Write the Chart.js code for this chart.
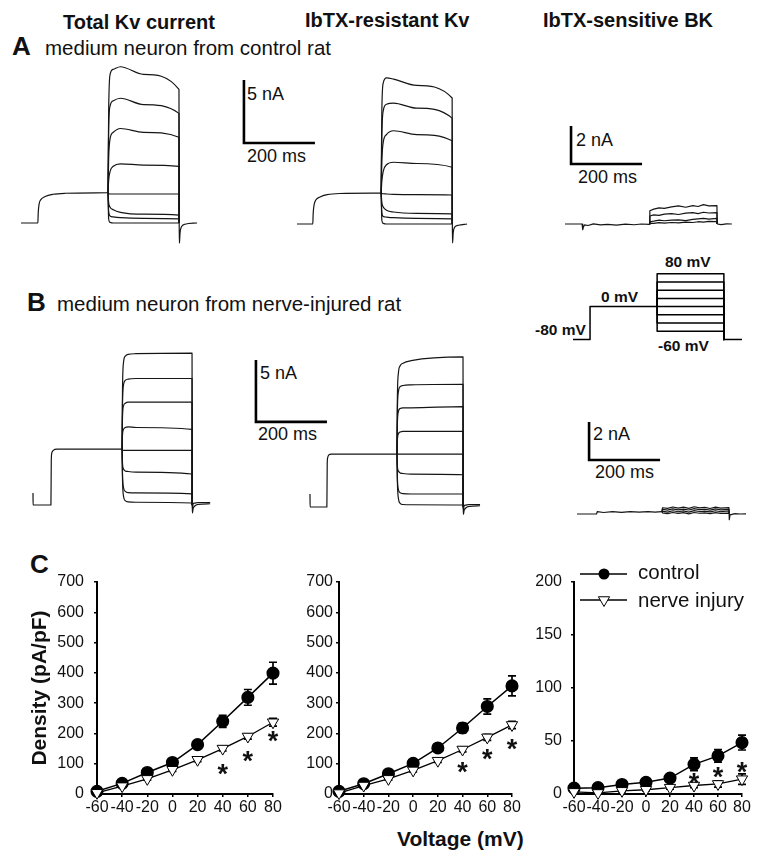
<!DOCTYPE html>
<html>
<head>
<meta charset="utf-8">
<script src="https://cdn.jsdelivr.net/npm/chart.js@4.4.1/dist/chart.umd.min.js"></script>
<style>
html, body { margin: 0; padding: 0; background: #fff; }
body { width: 762px; height: 863px; position: relative; overflow: hidden; font-family: "Liberation Sans", Arial, Helvetica, sans-serif; color: #111; }
canvas { position: absolute; }
.t { position: absolute; white-space: nowrap; line-height: 1; }
.b { font-weight: bold; }
</style>
</head>
<body>
<div class="t b" style="left:63px;top:12px;font-size:20px">Total Kv current</div>
<div class="t b" style="left:305px;top:9.5px;font-size:20px">IbTX-resistant Kv</div>
<div class="t b" style="left:543px;top:9.8px;font-size:20px">IbTX-sensitive BK</div>

<div class="t b" style="left:12px;top:33px;font-size:26px">A</div>
<div class="t" style="left:45px;top:37.5px;font-size:20.5px">medium neuron from control rat</div>
<div class="t b" style="left:27px;top:289px;font-size:26px">B</div>
<div class="t" style="left:57px;top:293.5px;font-size:20.5px">medium neuron from nerve-injured rat</div>
<div class="t b" style="left:30px;top:551px;font-size:26px">C</div>

<div class="t" style="left:247px;top:85px;font-size:18px">5 nA</div>
<div class="t" style="left:247px;top:147px;font-size:18px">200 ms</div>
<div class="t" style="left:576px;top:131px;font-size:18px">2 nA</div>
<div class="t" style="left:578px;top:168px;font-size:18px">200 ms</div>
<div class="t" style="left:260px;top:364px;font-size:18px">5 nA</div>
<div class="t" style="left:258px;top:425px;font-size:18px">200 ms</div>
<div class="t" style="left:593px;top:425px;font-size:18px">2 nA</div>
<div class="t" style="left:595px;top:463px;font-size:18px">200 ms</div>

<div class="t b" style="left:665px;top:254px;font-size:15.5px">80 mV</div>
<div class="t b" style="left:601px;top:289px;font-size:15.5px">0 mV</div>
<div class="t b" style="left:535px;top:322px;font-size:15.5px">-80 mV</div>
<div class="t b" style="left:658px;top:338px;font-size:15.5px">-60 mV</div>

<div class="t b" style="left:397px;top:828px;font-size:21px">Voltage (mV)</div>

<script>
const FONT = '"Liberation Sans", Arial, Helvetica, sans-serif';

// ====== ДАННЫЕ: панель C (плотность тока, pA/pF) ======
const VOLTS = [-60, -40, -20, 0, 20, 40, 60, 80];
const STAR_V = [40, 60, 80];

const totalCtrl    = [9, 35, 71, 104, 163, 240, 319, 399];
const totalCtrlErr = [4, 5, 6, 8, 12, 20, 26, 36];
const totalInj     = [4, 26, 50, 80, 113, 150, 190, 237];
const totalInjErr  = [2, 3, 4, 5, 6, 8, 9, 13];
const totalStars   = [87, 128, 195];

const resCtrl      = [9, 34, 67, 101, 152, 218, 289, 357];
const resCtrlErr   = [3, 4, 6, 8, 10, 16, 25, 33];
const resInj       = [3, 28, 50, 78, 110, 147, 187, 228];
const resInjErr    = [2, 3, 4, 5, 6, 8, 10, 12];
const resStars     = [92, 135, 168];

const bkCtrl       = [5.5, 6, 9, 11, 15, 28, 36, 48.5];
const bkCtrlErr    = [1, 1, 1.5, 2, 2.5, 6, 6, 7];
const bkInj        = [2, 1, 3, 4, 6, 8, 9.5, 14];
const bkInjErr     = [0.5, 0.5, 1, 1, 1.5, 2, 3, 5];
const bkStars      = [16, 22, 26];

// ====== ДАННЫЕ: токи (время, мс; ток, нА) ======
// A, total Kv
const aTotalPreT  = [0, 47.5, 48.5, 51, 56, 68, 90, 124, 245];
const aTotalPreI  = [0, 0, 0.8, 1.5, 1.85, 2.1, 2.28, 2.36, 2.4];
const aTotalStepT = [245, 247, 251, 260, 280, 345, 445, 445.6];
const aTotalSteps = [
  [2.4, 9.0, 11.8, 12.2, 12.4, 11.8, 10.6, 0],
  [2.4, 7.5, 9.3, 9.7, 9.9, 9.4, 8.7, 0],
  [2.4, 5.2, 6.7, 7.2, 7.5, 7.2, 6.8, 0],
  [2.4, 3.4, 4.1, 4.5, 4.7, 4.6, 4.5, 0],
  [2.4, 2.35, 2.3, 2.3, 2.3, 2.3, 2.3, 0],
  [2.4, 1.6, 1.25, 1.05, 0.85, 0.7, 0.63, 0],
  [2.4, 0.9, 0.55, 0.48, 0.42, 0.36, 0.32, 0],
  [2.4, 0.3, 0.05, 0, 0, 0, 0, 0]
];
const aTotalTailT = [445.6, 446.2, 448, 452, 462, 496];
const aTotalTails = [[0, -1.6, -0.8, -0.3, -0.1, 0]];

// A, IbTX-resistant
const aResPreT  = [0, 44.5, 45.5, 48, 53, 65, 85, 120, 237];
const aResPreI  = [0, 0, 0.8, 1.5, 1.9, 2.15, 2.33, 2.42, 2.45];
const aResStepT = [237, 239, 243, 252, 272, 337, 437, 437.6];
const aResSteps = [
  [2.45, 9.0, 11.2, 11.6, 11.5, 11.0, 10.0, 0],
  [2.45, 7.0, 9.0, 9.5, 9.6, 9.2, 8.4, 0],
  [2.45, 5.0, 6.5, 7.1, 7.4, 7.1, 6.6, 0],
  [2.45, 3.4, 4.2, 4.7, 4.9, 4.8, 4.5, 0],
  [2.45, 2.42, 2.4, 2.38, 2.35, 2.33, 2.3, 0],
  [2.45, 1.7, 1.35, 1.1, 0.95, 0.85, 0.8, 0],
  [2.45, 0.9, 0.6, 0.55, 0.5, 0.45, 0.4, 0],
  [2.45, 0.3, 0.05, 0, 0, 0, 0, 0]
];
const aResTailT = [437.6, 438.2, 440, 444, 455, 479];
const aResTails = [[0, -1.5, -0.7, -0.25, -0.1, 0]];

// A, IbTX-sensitive BK
const aBkPreT  = [0, 48, 50, 52, 55, 65, 80, 100, 120, 145, 170, 195, 215, 237];
const aBkPreI  = [0, 0, -0.3, -0.15, -0.05, -0.08, 0.01, -0.05, -0.02, -0.06, -0.01, -0.04, 0, -0.02];
const aBkStepT = [237, 239, 250, 265, 280, 300, 320, 340, 360, 375, 390, 405, 428, 428.5];
const aBkSteps = [
  [0, 0.7, 0.78, 0.85, 0.82, 0.9, 0.95, 0.88, 0.97, 0.92, 1.02, 0.95, 0.97, 0],
  [0, 0.42, 0.48, 0.45, 0.52, 0.55, 0.5, 0.57, 0.6, 0.55, 0.62, 0.58, 0.6, 0],
  [0, 0.12, 0.15, 0.2, 0.17, 0.2, 0.22, 0.18, 0.24, 0.27, 0.3, 0.26, 0.3, 0],
  [0, 0.05, 0.03, 0.07, 0.05, 0.08, 0.06, 0.1, 0.08, 0.12, 0.1, 0.14, 0.13, 0]
];
const aBkTailT = [428.5, 440, 455, 470];
const aBkTails = [[0, -0.03, 0.01, 0]];

// B, total Kv
const bTotalPreT  = [0, 0.3, 50.5, 51.5, 53, 57, 68, 251];
const bTotalPreI  = [0.97, 0, 0, 3.6, 4.2, 4.4, 4.5, 4.5];
const bTotalStepT = [251, 252, 255, 260, 268, 290, 448, 448.6];
const bTotalSteps = [
  [4.5, 9.0, 11.5, 12.0, 12.15, 12.2, 12.25, 0],
  [4.5, 8.0, 9.7, 10.05, 10.15, 10.2, 10.2, 0],
  [4.5, 7.0, 8.0, 8.2, 8.3, 8.3, 8.3, 0],
  [4.5, 5.6, 6.1, 6.25, 6.3, 6.25, 6.1, 0],
  [4.5, 4.45, 4.4, 4.4, 4.4, 4.4, 4.4, 0],
  [4.5, 3.4, 2.9, 2.75, 2.7, 2.65, 2.5, 0],
  [4.5, 2.6, 1.4, 1.1, 1.0, 0.97, 0.9, 0],
  [4.5, 2.2, 0.7, 0.35, 0.25, 0.22, 0.16, 0]
];
const bTotalTailT = [448.6, 449.2, 451, 455, 465, 499];
const bTotalTails = [[0, -0.65, -0.3, -0.1, 0.05, 0.1], [0, -0.2, 0.1, 0.15, 0.2, 0.2]];

// B, IbTX-resistant
const bResPreT  = [0, 0.3, 47.5, 48.5, 50, 53, 60, 245];
const bResPreI  = [1.05, 0, 0, 3.5, 4.0, 4.2, 4.27, 4.27];
const bResStepT = [245, 246, 249, 254, 262, 285, 431, 431.6];
const bResSteps = [
  [4.27, 8.5, 10.8, 11.4, 11.6, 11.8, 12.1, 0],
  [4.27, 7.5, 9.3, 9.7, 9.8, 9.85, 9.9, 0],
  [4.27, 6.6, 7.7, 7.95, 8.0, 8.0, 8.1, 0],
  [4.27, 5.3, 5.9, 6.05, 6.1, 6.1, 6.1, 0],
  [4.27, 4.27, 4.27, 4.27, 4.27, 4.27, 4.27, 0],
  [4.27, 3.3, 2.9, 2.75, 2.7, 2.65, 2.6, 0],
  [4.27, 2.5, 1.4, 1.15, 1.08, 1.05, 1.05, 0],
  [4.27, 2.2, 0.7, 0.3, 0.2, 0.18, 0.16, 0]
];
const bResTailT = [431.6, 432.2, 434, 438, 448, 479];
const bResTails = [[0, -0.6, -0.3, -0.1, 0.05, 0.1], [0, -0.2, 0.1, 0.15, 0.2, 0.2]];

// B, IbTX-sensitive BK
const bBkPreT  = [0, 55, 57, 75, 100, 125, 150, 175, 200, 220, 239];
const bBkPreI  = [0, 0, 0.12, 0.08, 0.12, 0.09, 0.13, 0.1, 0.12, 0.1, 0.12];
const bBkStepT = [239, 241, 255, 270, 285, 300, 315, 330, 345, 360, 375, 390, 405, 428, 428.5];
const bBkSteps = [
  [0.12, 0.33, 0.3, 0.37, 0.31, 0.36, 0.3, 0.38, 0.32, 0.35, 0.29, 0.36, 0.31, 0.34, 0],
  [0.12, 0.25, 0.2, 0.27, 0.22, 0.26, 0.21, 0.28, 0.23, 0.25, 0.2, 0.27, 0.22, 0.25, 0],
  [0.12, 0.15, 0.1, 0.17, 0.12, 0.16, 0.1, 0.18, 0.13, 0.15, 0.11, 0.17, 0.12, 0.16, 0],
  [0.12, 0.06, 0.02, 0.08, 0.03, 0.07, 0.01, 0.08, 0.04, 0.06, 0.02, 0.07, 0.03, 0.05, 0]
];
const bBkTailT = [428.5, 429, 431, 445, 460, 476];
const bBkTails = [[0, -0.3, -0.05, 0.02, 0, 0.01]];

// протокол (мс, мВ)
const protoT  = [0, 48, 237, 425, 476];
const HOLD_MV = -80;
const PRE_MV  = 0;
const STEP_MV = [80, 60, 40, 20, 0, -20, -40, -60];

// ====== helpers ======
const pts = (ts, vs) => ts.map((t, i) => ({ x: t, y: vs[i] }));

function line(data, opt = {}) {
  return Object.assign({
    data, borderColor: '#151515', borderWidth: 1.2, pointRadius: 0, fill: false,
    cubicInterpolationMode: 'monotone', clip: false, borderJoinStyle: 'round'
  }, opt);
}

const STRAIGHT = { cubicInterpolationMode: 'default', tension: 0 };

function scaleBar(b) {
  return line([{ x: b.t, y: b.i + b.di }, { x: b.t, y: b.i }, { x: b.t + b.dt, y: b.i }],
    Object.assign({ borderWidth: 2.6, borderColor: '#000', borderJoinStyle: 'miter' }, STRAIGHT));
}

function traceSets(preT, preI, stepT, steps, tailT, tails, noisy) {
  const o = noisy ? STRAIGHT : {};
  const sets = [line(pts(preT, preI), o)];
  steps.forEach(s => sets.push(line(pts(stepT, s), o)));
  tails.forEach(s => sets.push(line(pts(tailT, s), o)));
  return sets;
}

function makeCanvas(box) {
  const c = document.createElement('canvas');
  c.width = box.w; c.height = box.h;
  c.style.left = box.x + 'px'; c.style.top = box.y + 'px';
  document.body.appendChild(c);
  return c;
}

// панель с записью тока: оси скрыты, масштаб задаётся мс/пиксель и нА/пиксель
function traceChart(box, map, datasets) {
  const c = makeCanvas(box);
  return new Chart(c, {
    type: 'line',
    data: { datasets },
    options: {
      responsive: false, animation: false, events: [], devicePixelRatio: 1,
      layout: { padding: 0 },
      plugins: { legend: { display: false }, tooltip: { enabled: false } },
      scales: {
        x: { type: 'linear', display: false,
             min: (box.x - map.x0) / map.kx, max: (box.x + box.w - map.x0) / map.kx },
        y: { type: 'linear', display: false,
             min: (map.y0 - box.y - box.h) / map.ky, max: (map.y0 - box.y) / map.ky }
      }
    }
  });
}

// ---- error bars, stars, legend ----
const errBars = {
  id: 'errBars',
  beforeDatasetsDraw(chart) {
    const { ctx, scales: { x, y } } = chart;
    ctx.save();
    ctx.strokeStyle = '#000';
    ctx.lineWidth = 1.7;
    chart.data.datasets.forEach(ds => {
      if (!ds.errors) return;
      ds.data.forEach((p, i) => {
        const e = ds.errors[i];
        if (!e) return;
        const px = x.getPixelForValue(p.x);
        const top = y.getPixelForValue(p.y + e), bot = y.getPixelForValue(p.y - e);
        ctx.beginPath();
        ctx.moveTo(px, top); ctx.lineTo(px, bot);
        ctx.moveTo(px - 4, top); ctx.lineTo(px + 4, top);
        ctx.moveTo(px - 4, bot); ctx.lineTo(px + 4, bot);
        ctx.stroke();
      });
    });
    ctx.restore();
  }
};

const stars = {
  id: 'stars',
  afterDatasetsDraw(chart, args, opts) {
    if (!opts || !opts.y) return;
    const { ctx, scales: { x, y } } = chart;
    ctx.save();
    ctx.fillStyle = '#111';
    ctx.font = 'bold 27px ' + FONT;
    ctx.textAlign = 'center';
    ctx.textBaseline = 'alphabetic';
    opts.x.forEach((v, i) => {
      ctx.fillText('*', x.getPixelForValue(v), y.getPixelForValue(opts.y[i]) + 15);
    });
    ctx.restore();
  }
};

function drawTri(ctx, x, y, r) {
  ctx.beginPath();
  let a = Math.PI;
  for (let k = 0; k < 3; k++) {
    const px = x + Math.sin(a) * r, py = y - Math.cos(a) * r;
    k ? ctx.lineTo(px, py) : ctx.moveTo(px, py);
    a += 2 * Math.PI / 3;
  }
  ctx.closePath();
  ctx.fillStyle = '#fff';
  ctx.fill();
  ctx.stroke();
}

const ivLegend = {
  id: 'ivLegend',
  afterDraw(chart, args, opts) {
    if (!opts || !opts.items) return;
    const ctx = chart.ctx;
    ctx.save();
    ctx.strokeStyle = '#000';
    ctx.fillStyle = '#111';
    ctx.font = '20.5px ' + FONT;
    ctx.textBaseline = 'alphabetic';
    opts.items.forEach(it => {
      const y = it.y - opts.oy;
      ctx.lineWidth = 1.4;
      ctx.beginPath();
      ctx.moveTo(opts.x1 - opts.ox, y); ctx.lineTo(opts.x2 - opts.ox, y);
      ctx.stroke();
      const mx = opts.mx - opts.ox;
      if (it.style === 'circle') {
        ctx.beginPath(); ctx.arc(mx, y, 5.5, 0, Math.PI * 2); ctx.fillStyle = '#000'; ctx.fill();
      } else {
        ctx.lineWidth = 1; drawTri(ctx, mx, y, 6.5);
      }
      ctx.fillStyle = '#111';
      ctx.fillText(it.label, opts.tx - opts.ox, it.base - opts.oy);
    });
    ctx.restore();
  }
};

Chart.register(errBars, stars, ivLegend);

// ---- I-V графики ----
function ivChart(box, area, cfg) {
  const c = makeCanvas(box);
  const tickFont = { size: 16, family: FONT };
  return new Chart(c, {
    type: 'line',
    data: { datasets: [
      { data: pts(VOLTS, cfg.inj), errors: cfg.injErr, borderColor: '#000', borderWidth: 1.3,
        pointStyle: 'triangle', rotation: 180, pointRadius: 6.5, pointBackgroundColor: '#fff',
        pointBorderColor: '#000', pointBorderWidth: 1, tension: 0, clip: false },
      { data: pts(VOLTS, cfg.ctrl), errors: cfg.ctrlErr, borderColor: '#000', borderWidth: 1.5,
        pointStyle: 'circle', pointRadius: 5.8, pointBackgroundColor: '#000', pointBorderColor: '#000',
        tension: 0, clip: false }
    ] },
    options: {
      responsive: false, animation: false, events: [], devicePixelRatio: 1,
      layout: { padding: { top: area.top - box.y, right: box.x + box.w - area.right, left: 0, bottom: 0 } },
      plugins: {
        legend: { display: false }, tooltip: { enabled: false },
        stars: { x: STAR_V, y: cfg.stars },
        ivLegend: cfg.legend || {}
      },
      scales: {
        x: {
          type: 'linear', min: -60, max: 80,
          ticks: { stepSize: 20, autoSkip: false, maxRotation: 0, minRotation: 0, padding: 1, color: '#111', font: tickFont },
          grid: { drawOnChartArea: false, color: '#000', tickLength: 3, lineWidth: 1.5 },
          border: { color: '#000', width: 2 },
          afterFit: s => { s.height = box.y + box.h - area.bottom; }
        },
        y: {
          min: 0, max: cfg.yMax,
          ticks: { stepSize: cfg.yStep, padding: cfg.tickPad, color: '#111', font: tickFont },
          grid: { drawOnChartArea: false, color: '#000', tickLength: 3, lineWidth: 1.5 },
          border: { color: '#000', width: 2 },
          title: cfg.yTitle ? { display: true, text: cfg.yTitle, color: '#111',
                                font: { size: 21, weight: 'bold', family: FONT }, padding: { top: 27.4, bottom: 0 } }
                            : { display: false },
          afterFit: s => { s.width = area.left - box.x; }
        }
      }
    }
  });
}

// ====== отрисовка ======
const KX = 0.355; // px per ms

traceChart({ x: 10, y: 55, w: 318, h: 195 }, { x0: 21, y0: 223, kx: KX, ky: 12.6 },
  traceSets(aTotalPreT, aTotalPreI, aTotalStepT, aTotalSteps, aTotalTailT, aTotalTails)
    .concat([scaleBar({ t: 628, i: 6.35, dt: 200, di: 5 })]));

traceChart({ x: 285, y: 55, w: 192, h: 195 }, { x0: 297, y0: 224, kx: KX, ky: 12.6 },
  traceSets(aResPreT, aResPreI, aResStepT, aResSteps, aResTailT, aResTails));

traceChart({ x: 555, y: 115, w: 195, h: 130 }, { x0: 565, y0: 224, kx: KX, ky: 19 },
  traceSets(aBkPreT, aBkPreI, aBkStepT, aBkSteps, aBkTailT, aBkTails, true)
    .concat([scaleBar({ t: 17, i: 3.16, dt: 200, di: 2 })]));

traceChart({ x: 25, y: 335, w: 305, h: 185 }, { x0: 33, y0: 505, kx: KX, ky: 12.4 },
  traceSets(bTotalPreT, bTotalPreI, bTotalStepT, bTotalSteps, bTotalTailT, bTotalTails)
    .concat([scaleBar({ t: 628, i: 6.7, dt: 200, di: 5 })]));

traceChart({ x: 300, y: 335, w: 190, h: 185 }, { x0: 310, y0: 507, kx: KX, ky: 12.4 },
  traceSets(bResPreT, bResPreI, bResStepT, bResSteps, bResTailT, bResTails));

traceChart({ x: 568, y: 410, w: 185, h: 115 }, { x0: 577, y0: 514, kx: KX, ky: 19 },
  traceSets(bBkPreT, bBkPreI, bBkStepT, bBkSteps, bBkTailT, bBkTails, true)
    .concat([scaleBar({ t: 34, i: 2.84, dt: 200, di: 2 })]));

// протокол
const protoOpt = Object.assign({ borderWidth: 1.5, borderColor: '#000' }, STRAIGHT);
const protoSets = [line([
  { x: protoT[0], y: HOLD_MV }, { x: protoT[1], y: HOLD_MV },
  { x: protoT[1], y: PRE_MV }, { x: protoT[2], y: PRE_MV }], protoOpt)];
STEP_MV.forEach(v => protoSets.push(line([
  { x: protoT[2], y: PRE_MV }, { x: protoT[2], y: v },
  { x: protoT[3], y: v }, { x: protoT[3], y: HOLD_MV }], protoOpt)));
protoSets.push(line([{ x: protoT[3], y: HOLD_MV }, { x: protoT[4], y: HOLD_MV }], protoOpt));
traceChart({ x: 525, y: 255, w: 225, h: 95 }, { x0: 573, y0: 306.6, kx: KX, ky: 0.411 }, protoSets);

// C
ivChart({ x: 0, y: 560, w: 290, h: 303 }, { left: 97, right: 273, top: 582, bottom: 794 }, {
  ctrl: totalCtrl, ctrlErr: totalCtrlErr, inj: totalInj, injErr: totalInjErr, stars: totalStars,
  yMax: 700, yStep: 100, tickPad: 10, yTitle: 'Density (pA/pF)'
});
ivChart({ x: 250, y: 560, w: 275, h: 303 }, { left: 339, right: 512, top: 582, bottom: 794 }, {
  ctrl: resCtrl, ctrlErr: resCtrlErr, inj: resInj, injErr: resInjErr, stars: resStars,
  yMax: 700, yStep: 100, tickPad: 3
});
ivChart({ x: 500, y: 560, w: 262, h: 303 }, { left: 574, right: 742, top: 582, bottom: 794 }, {
  ctrl: bkCtrl, ctrlErr: bkCtrlErr, inj: bkInj, injErr: bkInjErr, stars: bkStars,
  yMax: 200, yStep: 50, tickPad: 9,
  legend: {
    ox: 500, oy: 560, x1: 580, x2: 627, mx: 604, tx: 638,
    items: [
      { label: 'control', style: 'circle', y: 574, base: 579 },
      { label: 'nerve injury', style: 'tri', y: 600, base: 606.5 }
    ]
  }
});
</script>
</body>
</html>
